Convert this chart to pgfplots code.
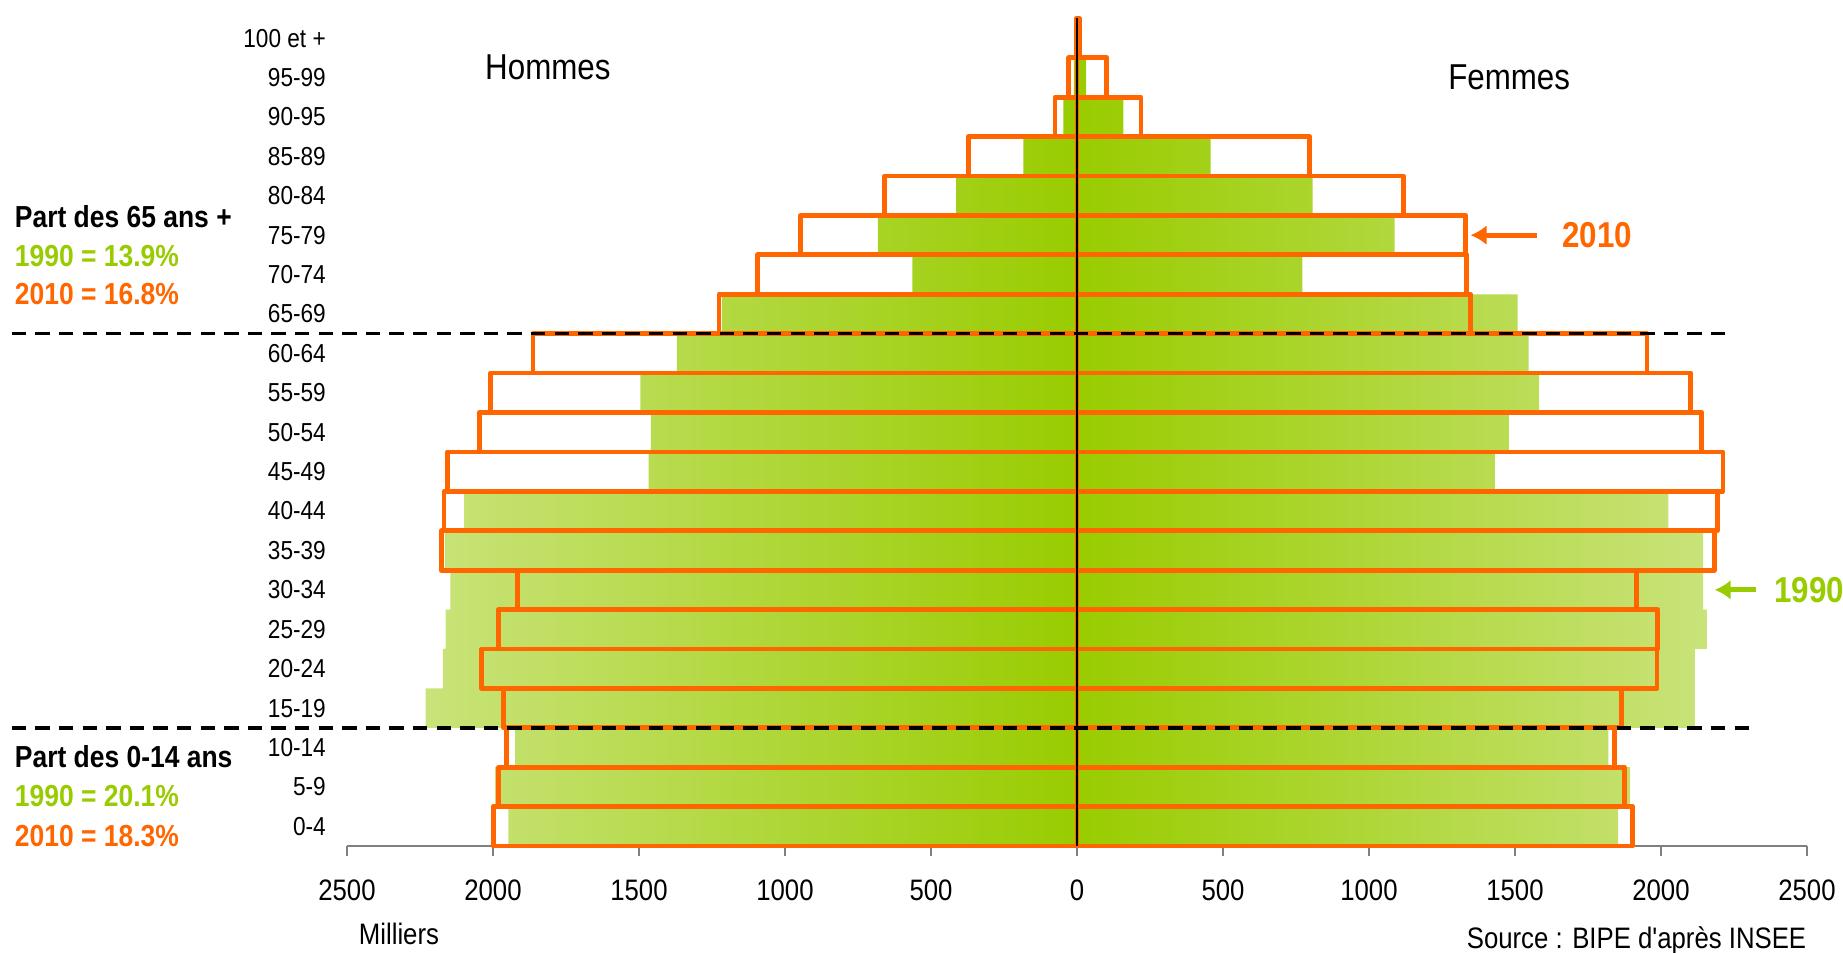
\documentclass[border=0pt]{standalone}
\usepackage{graphicx}
\usepackage{pgfplots}
\pgfplotsset{compat=1.18}
\usepackage{pgfplotstable}
\usepackage{fontspec}
\setmainfont{Liberation Sans}
\usetikzlibrary{arrows.meta}

\definecolor{orng}{HTML}{FF6600}
\definecolor{gdark}{HTML}{99CC00}
\definecolor{glight}{HTML}{C9E37A}
\newcommand{\nar}[1]{\scalebox{0.87}[1]{#1}}

% age index, hommes 1990, femmes 1990, hommes 2010, femmes 2010 (milliers)
\pgfplotstableread{
age h90 f90 h10 f10
0 1947 1853 1999 1903
1 1993 1894 1982 1875
2 1924 1820 1955 1841
3 2231 2116 1965 1866
4 2172 2116 2039 1986
5 2162 2157 1982 1989
6 2146 2144 1916 1915
7 2165 2144 2177 2182
8 2099 2025 2168 2193
9 1467 1431 2157 2212
10 1459 1479 2047 2140
11 1495 1583 2008 2102
12 1370 1547 1863 1952
13 1216 1509 1226 1348
14 564 772 1093 1334
15 682 1088 947 1331
16 414 807 659 1117
17 184 458 371 796
18 47 159 75 219
19 11 31 28 102
20 1 4 3 8
}\pyramide

\begin{document}
\begin{tikzpicture}
\path[use as bounding box] (-86.75pt,-26.75pt) rectangle (374pt,211.5pt);
\begin{axis}[
    at={(0,0)}, anchor=south west,
    scale only axis,
    width=365pt, height=206.9pt,
    xmin=-2500, xmax=2500,
    ymin=-0.5, ymax=20.5,
    clip=false,
    axis x line*=bottom,
    axis y line*=left,
    x axis line style={draw=gray, line width=0.5pt},
    y axis line style={draw=none},
    xtick={-2500,-2000,...,2500},
    xtick style={draw=gray, line width=0.5pt},
    ytick={0,...,20},
    ytick style={draw=none},
    tick align=outside,
    major tick length=2.5pt,
    /pgf/number format/assume math mode=true,
    /pgf/number format/1000 sep={},
    xticklabel={\nar{\pgfmathparse{abs(\tick)}\pgfmathprintnumber{\pgfmathresult}}},
    xticklabel style={font=\fontsize{7.4}{8}\selectfont, anchor=north, yshift=-2.5pt},
    yticklabels={{\nar{0-4}},{\nar{5-9}},{\nar{10-14}},{\nar{15-19}},{\nar{20-24}},{\nar{25-29}},{\nar{30-34}},{\nar{35-39}},{\nar{40-44}},{\nar{45-49}},{\nar{50-54}},{\nar{55-59}},{\nar{60-64}},{\nar{65-69}},{\nar{70-74}},{\nar{75-79}},{\nar{80-84}},{\nar{85-89}},{\nar{90-95}},{\nar{95-99}},{\nar{100 et +}}},
    yticklabel style={font=\fontsize{6.5}{7}\selectfont, anchor=east, inner sep=0pt, xshift=-2.6pt},
    xbar, bar width=1, bar shift=0,
]
% 1990 : barres vertes en degrade
\addplot[draw=none, left color=glight, right color=gdark]
    table[x expr=-\thisrow{h90}, y=age] {\pyramide};
\addplot[draw=none, left color=gdark, right color=glight]
    table[x=f90, y=age] {\pyramide};
% 2010 : contours orange
\addplot[draw=orng, line width=1.2pt, line join=round, fill=none]
    table[x expr=-\thisrow{h10}, y=age] {\pyramide};
\addplot[draw=orng, line width=1.2pt, line join=round, fill=none]
    table[x=f10, y=age] {\pyramide};

\draw[black, line width=0.5pt] (axis cs:0,-0.5) -- (axis cs:0,20.5);
\draw[black, line width=0.9pt, dash pattern=on 3.6pt off 2.3pt] (axis cs:-3648,12.5) -- (axis cs:2219,12.5);
\draw[black, line width=0.9pt, dash pattern=on 3.6pt off 2.3pt] (axis cs:-3648,2.5) -- (axis cs:2308,2.5);

\node[font=\fontsize{9}{10}\selectfont] at (axis cs:-1812,19.25) {\nar{Hommes}};
\node[font=\fontsize{9}{10}\selectfont] at (axis cs:1480,19.0) {\nar{Femmes}};

\node[font=\fontsize{7.4}{8}\selectfont] at (axis cs:-2322,-2.73) {\nar{Milliers}};
\node[anchor=east, inner sep=0pt, font=\fontsize{7.4}{8}\selectfont] at (axis cs:2500,-2.89) {\nar{Source : BIPE d\textquotesingle après INSEE}};

\node[anchor=west, inner sep=0pt, font=\fontsize{7.6}{9}\selectfont\bfseries] at (axis cs:-3640,15.46) {\nar{Part des 65 ans +}};
\node[anchor=west, inner sep=0pt, text=gdark, font=\fontsize{7.6}{9}\selectfont\bfseries] at (axis cs:-3640,14.48) {\nar{1990 = 13.9\%}};
\node[anchor=west, inner sep=0pt, text=orng, font=\fontsize{7.6}{9}\selectfont\bfseries] at (axis cs:-3640,13.5) {\nar{2010 = 16.8\%}};
\node[anchor=west, inner sep=0pt, font=\fontsize{7.6}{9}\selectfont\bfseries] at (axis cs:-3640,1.76) {\nar{Part des 0-14 ans}};
\node[anchor=west, inner sep=0pt, text=gdark, font=\fontsize{7.6}{9}\selectfont\bfseries] at (axis cs:-3640,0.76) {\nar{1990 = 20.1\%}};
\node[anchor=west, inner sep=0pt, text=orng, font=\fontsize{7.6}{9}\selectfont\bfseries] at (axis cs:-3640,-0.24) {\nar{2010 = 18.3\%}};

\draw[orng, line width=1.2pt, -{Latex[length=4pt,width=5pt]}] (axis cs:1576,15) -- (axis cs:1348,15);
\node[anchor=west, inner sep=0pt, text=orng, font=\fontsize{9}{10}\selectfont\bfseries] at (axis cs:1660,15) {\nar{2010}};
\draw[gdark, line width=1.2pt, -{Latex[length=4pt,width=5pt]}] (axis cs:2325,6) -- (axis cs:2184,6);
\node[anchor=west, inner sep=0pt, text=gdark, font=\fontsize{9}{10}\selectfont\bfseries] at (axis cs:2386,6) {\nar{1990}};
\end{axis}
\end{tikzpicture}
\end{document}
